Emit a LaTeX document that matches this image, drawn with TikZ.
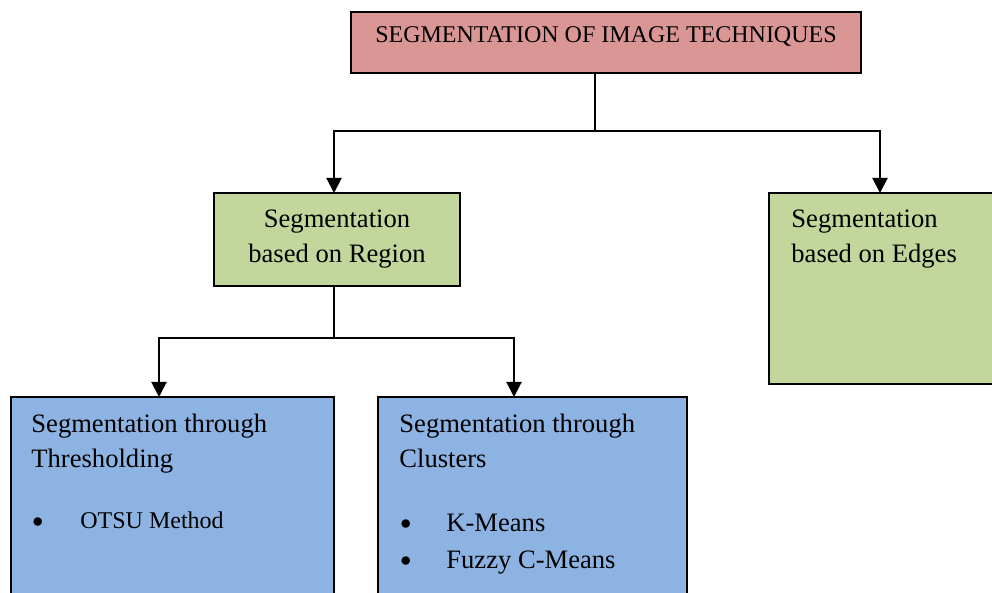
\documentclass[tikz,border=0pt]{standalone}
\usepackage{xcolor}
\usepackage{fontspec}
\setmainfont{Liberation Serif}
\usepackage{tikz}
\usetikzlibrary{arrows.meta}
\definecolor{rootcolor}{RGB}{217, 150, 148}
\definecolor{greencolor}{RGB}{195, 214, 155}
\definecolor{bluecolor}{RGB}{141, 179, 226}
\newcommand{\bodyfont}{\fontsize{13.3}{17.5}\selectfont}
\newcommand{\smallfont}{\fontsize{12}{15}\selectfont}
\newcommand{\bulletitem}[2]{\makebox[#1][l]{\raisebox{0.7pt}{\fontsize{10.5}{10.5}\selectfont$\bullet$}}#2}

\begin{document}
\begin{tikzpicture}[x=0.5pt, y=-0.5pt,
        box/.style={draw=black, line width=1pt, inner sep=0pt, outer sep=0pt},
        boxtext/.style={inner sep=0pt, font=\bodyfont},
        link/.style={line width=1pt},
        arrow/.style={line width=1pt, -{Triangle[width=7.5pt, length=7.5pt]}}]
        \useasboundingbox (0,0) rectangle (992,593);
        \clip (0,0) rectangle (992,593);
        % boxes
        \node[box, fill=rootcolor, minimum width=255pt, minimum height=30.5pt] (root) at (606,42.5) {};
        \node[box, fill=greencolor, minimum width=123pt, minimum height=46.5pt] (region) at (337,239.5) {};
        \node[box, fill=greencolor, minimum width=113pt, minimum height=95.5pt] (edges) at (882,288.5) {};
        \node[box, fill=bluecolor, minimum width=161.5pt, minimum height=111.5pt] (thresh) at (172.5,508.5) {};
        \node[box, fill=bluecolor, minimum width=154.5pt, minimum height=111.5pt] (clusters) at (532.5,508.5) {};
        % texts (base = last line)
        \node[boxtext, font=\smallfont, anchor=base] (roottext) at (606,43) {SEGMENTATION OF IMAGE TECHNIQUES};
        \node[boxtext, anchor=base, align=center] (regiontext) at (337,263) {Segmentation\\based on Region};
        \node[boxtext, anchor=base west, align=left] (edgestext) at (791,263) {Segmentation\\based on Edges};
        \node[boxtext, anchor=base west, align=left] (threshtext) at (31,468) {Segmentation through\\Thresholding};
        \node[boxtext, font=\smallfont, anchor=base west] (otsu) at (32,529) {\bulletitem{24pt}{OTSU Method}};
        \node[boxtext, anchor=base west, align=left] (clusterstext) at (399,468) {Segmentation through\\Clusters};
        \node[boxtext, anchor=base west] (kmeans) at (400,531) {\bulletitem{23pt}{K-Means}};
        \node[boxtext, anchor=base west] (fuzzy) at (400,568) {\bulletitem{23pt}{Fuzzy C-Means}};
        % connectors
        \draw[link] ([xshift=-5.5pt]root.south) -- ++(0,58) coordinate (split);
        \draw[arrow] (split) -| ([xshift=-1.5pt]region.north);
        \draw[arrow] (split) -| ([xshift=-1pt]edges.north);
        \draw[link] ([xshift=-1.5pt]region.south) -- ++(0,52) coordinate (split2);
        \draw[arrow] (split2) -| ([xshift=-6.75pt]thresh.north);
        \draw[arrow] (split2) -| ([xshift=-9.25pt]clusters.north);
    \end{tikzpicture}
\end{document}
